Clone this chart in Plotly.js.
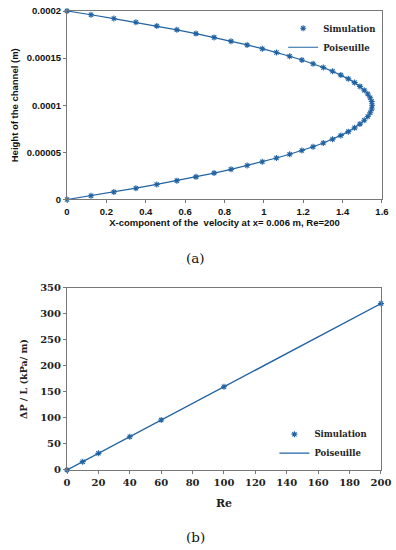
<!DOCTYPE html>
<html>
<head>
<meta charset="utf-8">
<script src="https://cdn.plot.ly/plotly-3.0.1.min.js"></script>
<style>html,body{margin:0;padding:0;background:#fff;}#plot{width:396px;height:550px;}</style>
</head>
<body>
<div id="plot"></div>
<script>
// (a) velocity profile
const heightA = [0,0.000004,0.000008,0.000012,0.000016,0.00002,0.000024,0.000028,0.000032,0.000036,0.00004,0.000044,0.000048,0.000052,0.000056,0.00006,0.000064,0.000068,0.000072,0.000076,0.00008,0.000084,0.000088,0.000092,0.000096,0.0001,0.000104,0.000108,0.000112,0.000116,0.00012,0.000124,0.000128,0.000132,0.000136,0.00014,0.000144,0.000148,0.000152,0.000156,0.00016,0.000164,0.000168,0.000172,0.000176,0.00018,0.000184,0.000188,0.000192,0.000196,0.0002];
const velSim = [0,0.122,0.238,0.350,0.456,0.558,0.655,0.747,0.833,0.915,0.992,1.064,1.131,1.193,1.250,1.302,1.349,1.391,1.429,1.461,1.488,1.510,1.528,1.540,1.548,1.550,1.548,1.540,1.528,1.510,1.488,1.461,1.429,1.391,1.349,1.302,1.250,1.193,1.131,1.064,0.992,0.915,0.833,0.747,0.655,0.558,0.456,0.350,0.238,0.122,0];
const velPois = velSim.slice();
const yTickVals = [0,0.00005,0.0001,0.00015,0.0002];
const yTickText = ["0","0.00005","0.0001","0.00015","0.0002"];

// (b) pressure drop
const reSim = [0,10,20,40,60,100,200];
const dpSim = [0,16,32,64,96,160,320];
const rePois = [0,200];
const dpPois = [0,320];

const blue = '#2163a3';
const sans = {family:'Liberation Sans, Arial, sans-serif', size:9.5, color:'#111', weight:'bold'};
const serif = {family:'DejaVu Serif, serif', size:10, color:'#222', weight:'bold'};

const traces = [
  {x: velSim, y: heightA, mode:'markers', name:'Simulation', xaxis:'x', yaxis:'y', legend:'legend',
   marker:{symbol:'asterisk-open', size:5, color:blue, line:{color:blue, width:1.1}}, cliponaxis:false},
  {x: velPois, y: heightA, mode:'lines', name:'Poiseuille', xaxis:'x', yaxis:'y', legend:'legend',
   line:{color:blue, width:1.2}, cliponaxis:false},
  {x: reSim, y: dpSim, mode:'markers', name:'Simulation', xaxis:'x2', yaxis:'y2', legend:'legend2',
   marker:{symbol:'asterisk-open', size:5, color:blue, line:{color:blue, width:1.1}}, cliponaxis:false},
  {x: rePois, y: dpPois, mode:'lines', name:'Poiseuille', xaxis:'x2', yaxis:'y2', legend:'legend2',
   line:{color:blue, width:1.4}, cliponaxis:false}
];

const axBase = {showgrid:false, zeroline:false, showline:true, linecolor:'#777', linewidth:1, mirror:true,
  ticks:'outside', ticklen:3, tickcolor:'#777', tickwidth:1};

const layout = {
  width:396, height:550, margin:{l:0,r:0,t:0,b:0}, paper_bgcolor:'#fff', plot_bgcolor:'#fff',
  showlegend:true,
  xaxis: Object.assign({}, axBase, {domain:[0.1692,0.9646], range:[0,1.6], dtick:0.2, tickfont:sans,
    title:{text:'X-component of the  velocity at x= 0.006 m, Re=200', font:sans, standoff:1}}),
  yaxis: Object.assign({}, axBase, {domain:[0.6373,0.98], range:[0,0.0002], tickvals:yTickVals, ticktext:yTickText, tickfont:sans,
    title:{text:'Height of the channel (m)', font:sans, standoff:6}}),
  xaxis2: Object.assign({}, axBase, {anchor:'y2', domain:[0.1692,0.9621], range:[0,200], dtick:20, tickfont:serif,
    title:{text:'Re', font:Object.assign({}, serif, {size:11}), standoff:12}}),
  yaxis2: Object.assign({}, axBase, {anchor:'x2', domain:[0.1455,0.4764], range:[0,350], dtick:50, tickfont:serif,
    title:{text:'ΔP / L (kPa/ m)', font:Object.assign({}, serif, {size:9.5}), standoff:10}}),
  legend: {x:0.715, y:0.975, xanchor:'left', yanchor:'top', bgcolor:'rgba(0,0,0,0)', itemwidth:30,
    font:Object.assign({}, serif, {size:8.5})},
  legend2: {x:0.693, y:0.237, xanchor:'left', yanchor:'top', bgcolor:'rgba(0,0,0,0)', itemwidth:30,
    font:Object.assign({}, serif, {size:8.5})},
  annotations: [
    {text:'(a)', xref:'paper', yref:'paper', x:0.493, y:1-258/550, showarrow:false, xanchor:'center', yanchor:'middle',
     font:{family:'DejaVu Serif, serif', size:13.5, color:'#111'}},
    {text:'(b)', xref:'paper', yref:'paper', x:0.493, y:1-537/550, showarrow:false, xanchor:'center', yanchor:'middle',
     font:{family:'DejaVu Serif, serif', size:13.5, color:'#111'}}
  ]
};

Plotly.newPlot('plot', traces, layout, {displayModeBar:false, staticPlot:true});
</script>
</body>
</html>
